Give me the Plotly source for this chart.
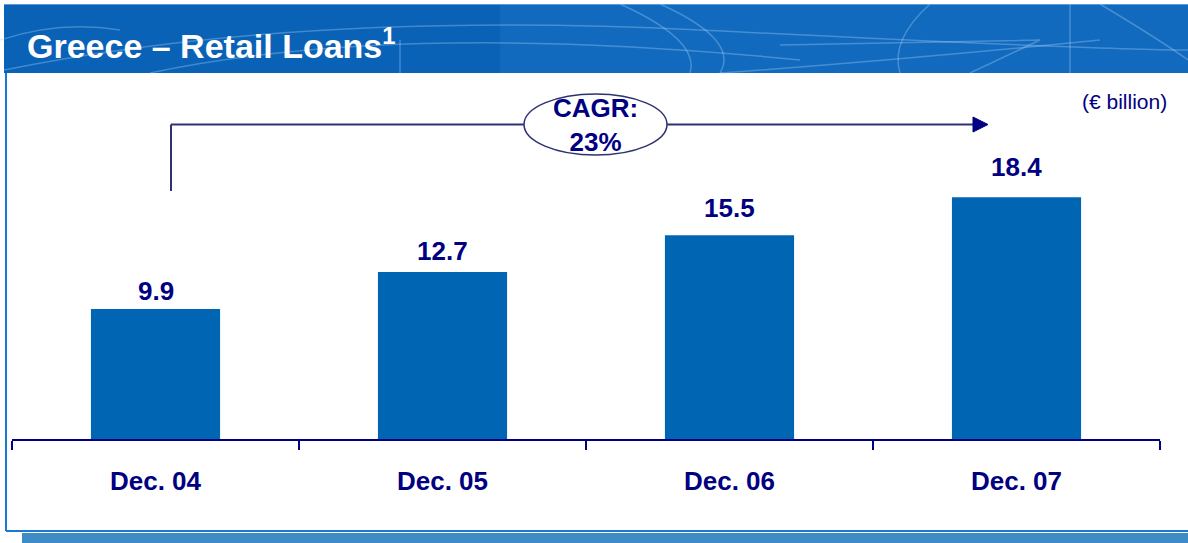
import plotly.graph_objects as go

categories = ["Dec. 04", "Dec. 05", "Dec. 06", "Dec. 07"]
values = [9.9, 12.7, 15.5, 18.4]
value_labels = ["9.9", "12.7", "15.5", "18.4"]
title_text = "Greece – Retail Loans<sup>1</sup>"
cagr_text = "CAGR:<br>23%"
unit_text = "(€ billion)"

W, H = 1188, 543
L, R, T, B = 12, 28, 80, 104
PW, PH = W - L - R, H - T - B

def px(x):
    return (x - L) / PW

def py(y):
    return (H - B - y) / PH

NAVY = "#000080"
BAR = "#0066b3"
LINE = "#2e3172"
FONT = "Arial, Liberation Sans, sans-serif"
label_shift = [1, 4, 10, 13]  # style: pixel gap between bar top and its label

fig = go.Figure()
fig.add_trace(go.Bar(
    x=categories, y=values, marker=dict(color=BAR, line=dict(width=0)),
    width=0.45, hoverinfo="skip",
))

annotations = []
for c, v, t, s in zip(categories, values, value_labels, label_shift):
    annotations.append(dict(x=c, y=v, xref="x", yref="y", text=f"<b>{t}</b>",
                            showarrow=False, yanchor="bottom", yshift=s,
                            font=dict(family=FONT, size=26, color=NAVY)))

annotations.append(dict(x=px(25), y=py(43), xref="paper", yref="paper",
                        text=f"<b>{title_text}</b>", showarrow=False,
                        xanchor="left", yanchor="middle",
                        font=dict(family=FONT, size=34, color="white")))
annotations.append(dict(x=px(595), y=py(125), xref="paper", yref="paper",
                        text=f"<b>{cagr_text}</b>", showarrow=False,
                        xanchor="center", yanchor="middle",
                        font=dict(family=FONT, size=26, color=NAVY)))
annotations.append(dict(x=px(1169), y=py(102), xref="paper", yref="paper",
                        text=unit_text, showarrow=False,
                        xanchor="right", yanchor="middle",
                        font=dict(family=FONT, size=21, color=NAVY)))

shapes = []
# header band
shapes.append(dict(type="rect", xref="paper", yref="paper",
                   x0=px(4), x1=px(1192), y0=py(73), y1=py(4),
                   fillcolor="#0a62b6", line=dict(width=0), layer="below"))
shapes.append(dict(type="rect", xref="paper", yref="paper",
                   x0=px(4), x1=px(1192), y0=py(5), y1=py(4),
                   fillcolor="#5a9ad6", line=dict(width=0), layer="below"))
shapes.append(dict(type="rect", xref="paper", yref="paper",
                   x0=px(500), x1=px(1192), y0=py(73), y1=py(5),
                   fillcolor="rgba(40,130,215,0.25)", line=dict(width=0), layer="below"))
# decorative arcs in header
deco = [
    "M 4 70 Q 300 10 700 30 T 1188 50",
    "M 150 73 Q 400 20 800 60",
    "M 620 4 Q 700 40 690 73",
    "M 660 4 Q 740 40 720 73",
    "M 720 73 Q 900 60 1100 40",
    "M 930 4 Q 890 40 900 73",
    "M 1100 4 Q 1160 40 1188 60",
    "M 400 40 L 400 73",
    "M 780 45 L 1040 40 L 970 73",
    "M 1070 4 L 1070 73",
    "M 0 40 Q 60 20 120 30",
]

def to_paper_path(p):
    toks = p.split()
    out = []
    i = 0
    while i < len(toks):
        tk = toks[i]
        if tk.isalpha():
            out.append(tk)
            i += 1
        else:
            x = float(tk); y = float(toks[i + 1])
            out.append(f"{px(x):.5f},{py(y):.5f}")
            i += 2
    return " ".join(out)

for d in deco:
    shapes.append(dict(type="path", xref="paper", yref="paper", path=to_paper_path(d),
                       line=dict(color="rgba(170,210,250,0.35)", width=1.5), layer="below"))

# frame
shapes.append(dict(type="line", xref="paper", yref="paper",
                   x0=px(6), x1=px(6), y0=py(73), y1=py(531),
                   line=dict(color="#1a78d0", width=2)))
shapes.append(dict(type="line", xref="paper", yref="paper",
                   x0=px(6), x1=px(1192), y0=py(531), y1=py(531),
                   line=dict(color="#1a78d0", width=2)))
shapes.append(dict(type="rect", xref="paper", yref="paper",
                   x0=px(22), x1=px(1192), y0=py(544), y1=py(533),
                   fillcolor="#3d8cc6", line=dict(width=0)))

# CAGR bracket
shapes.append(dict(type="line", xref="paper", yref="paper",
                   x0=px(171), x1=px(171), y0=py(191), y1=py(124.5),
                   line=dict(color=LINE, width=2)))
shapes.append(dict(type="line", xref="paper", yref="paper",
                   x0=px(171), x1=px(524), y0=py(124.5), y1=py(124.5),
                   line=dict(color=LINE, width=2)))
shapes.append(dict(type="line", xref="paper", yref="paper",
                   x0=px(667), x1=px(975), y0=py(124.5), y1=py(124.5),
                   line=dict(color=LINE, width=2)))
shapes.append(dict(type="circle", xref="paper", yref="paper",
                   x0=px(524), x1=px(667), y0=py(155), y1=py(94),
                   fillcolor="white", line=dict(color=LINE, width=1.5)))
shapes.append(dict(type="path", xref="paper", yref="paper",
                   path=f"M {px(973)},{py(117)} L {px(988)},{py(124.5)} L {px(973)},{py(132)} Z",
                   fillcolor=NAVY, line=dict(color=NAVY, width=1)))

fig.update_layout(
    width=W, height=H,
    margin=dict(l=L, r=R, t=T, b=B, pad=0),
    paper_bgcolor="white", plot_bgcolor="white",
    showlegend=False,
    bargap=0.55,
    xaxis=dict(type="category", range=[-0.5, 3.5], showline=True, linecolor=NAVY, linewidth=2,
               ticks="outside", tickson="boundaries", ticklen=9, tickwidth=2, tickcolor=NAVY,
               showgrid=False, zeroline=False, ticklabelstandoff=18,
               tickfont=dict(family=FONT, size=26, color=NAVY),
               tickvals=categories, ticktext=[f"<b>{c}</b>" for c in categories],
               fixedrange=True),
    yaxis=dict(range=[0, PH / 13.14], visible=False, showgrid=False, zeroline=False,
               fixedrange=True),
    annotations=annotations,
    shapes=shapes,
)

fig.write_html("out.html", config={"displayModeBar": False},
               post_script="document.body.style.margin='0';document.body.style.overflow='hidden';")
